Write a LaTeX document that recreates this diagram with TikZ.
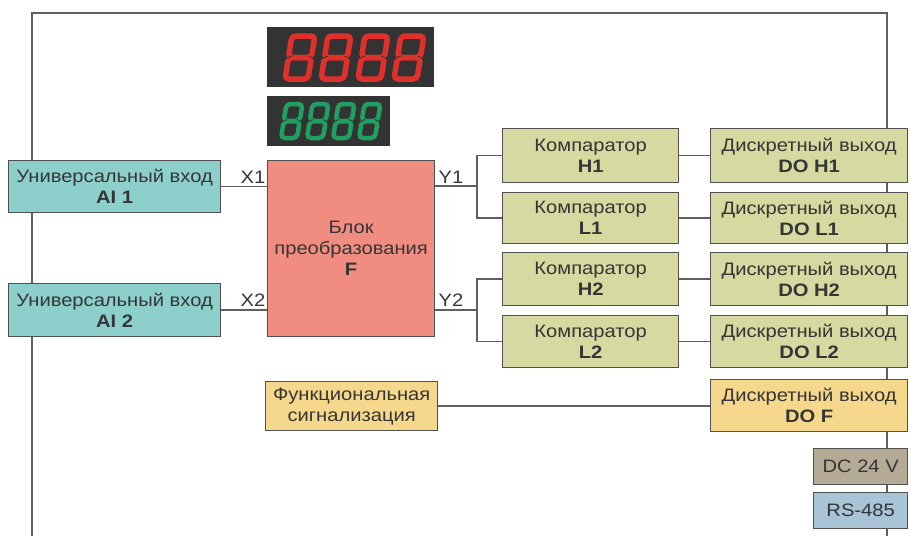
\documentclass[tikz,border=0pt]{standalone}
\usepackage{fontspec}
\setmainfont{Liberation Sans}[FakeStretch=1.12]
\definecolor{boxline}{HTML}{505050}
\definecolor{wirec}{HTML}{606060}
\definecolor{txt}{HTML}{353535}
\definecolor{aic}{HTML}{8DCFCB}
\definecolor{fc}{HTML}{F08C80}
\definecolor{cmpc}{HTML}{D6DAA0}
\definecolor{yelc}{HTML}{F6D88C}
\definecolor{dcc}{HTML}{B4AA96}
\definecolor{rsc}{HTML}{A8C4D6}
\definecolor{dispbg}{HTML}{333333}
\definecolor{segred}{HTML}{E0302C}
\definecolor{seggreen}{HTML}{1FA060}
% #1 x, #2 y bottom, #3 w, #4 h, #5 colour, #6 line width
\newcommand\segdigit[6]{%
  \begin{scope}[shift={(#1,#2)}, xslant=0.16, line width=#6, draw=#5, rounded corners=4pt]
    \draw (0,{-#4/2}) rectangle (#3,0);
    \draw (0,-#4) rectangle (#3,{-#4/2});
  \end{scope}
  \begin{scope}[shift={(#1,#2)}, xslant=0.16, line width=0.8pt, draw=dispbg]
    \draw (-3,{-#4/2+1.5}) -- (3,{-#4/2-1.5});
    \draw ({#3-3},{-#4/2-1.5}) -- ({#3+3},{-#4/2+1.5});
  \end{scope}}
\begin{document}
\begin{tikzpicture}[x=1pt,y=-1pt,
  box/.style={draw=boxline, line width=1.3pt, inner sep=0pt, align=center, text=txt,
    font=\fontsize{18}{21}\selectfont, anchor=north west},
  wire/.style={draw=wirec, line width=1.5pt},
  lbl/.style={text=txt, font=\fontsize{18}{21}\selectfont, inner sep=0pt},
  frameline/.style={draw=wirec, line width=1.8pt}]
\useasboundingbox (0,0) rectangle (911,536);
% frame
\draw[frameline] (32,536) -- (32,13) -- (887,13) -- (887,536);
% displays
\fill[dispbg] (267,27) rectangle (434,87);
\fill[dispbg] (267,96) rectangle (390,146);
\segdigit{285}{79}{23}{43}{segred}{5.5pt}
\segdigit{321}{79}{23}{43}{segred}{5.5pt}
\segdigit{358}{79}{23}{43}{segred}{5.5pt}
\segdigit{394}{79}{23}{43}{segred}{5.5pt}
\segdigit{281}{138}{16}{34}{seggreen}{4.5pt}
\segdigit{307}{138}{16}{34}{seggreen}{4.5pt}
\segdigit{333}{138}{16}{34}{seggreen}{4.5pt}
\segdigit{359}{138}{16}{34}{seggreen}{4.5pt}
% inputs
\node[box, fill=aic, minimum width=212pt, minimum height=52pt] (ai1) at (8,160) {Универсальный вход\\\textbf{AI 1}};
\node[box, fill=aic, minimum width=212pt, minimum height=53pt] (ai2) at (8,283) {Универсальный вход\\\textbf{AI 2}};
% F block
\node[box, fill=fc, minimum width=167pt, minimum height=176pt] (f) at (267,160) {Блок\\преобразования\\\textbf{F}};
% comparators
\node[box, fill=cmpc, minimum width=176pt, minimum height=54pt] (h1) at (502,128) {Компаратор\\\textbf{H1}};
\node[box, fill=cmpc, minimum width=176pt, minimum height=51pt] (l1) at (502,192) {Компаратор\\\textbf{L1}};
\node[box, fill=cmpc, minimum width=176pt, minimum height=53pt] (h2) at (502,252) {Компаратор\\\textbf{H2}};
\node[box, fill=cmpc, minimum width=176pt, minimum height=52pt] (l2) at (502,315) {Компаратор\\\textbf{L2}};
% discrete outputs
\node[box, fill=cmpc, minimum width=197pt, minimum height=54pt] (doh1) at (710,128) {Дискретный выход\\\textbf{DO H1}};
\node[box, fill=cmpc, minimum width=197pt, minimum height=51pt] (dol1) at (710,192) {Дискретный выход\\\textbf{DO L1}};
\node[box, fill=cmpc, minimum width=197pt, minimum height=53pt] (doh2) at (710,252) {Дискретный выход\\\textbf{DO H2}};
\node[box, fill=cmpc, minimum width=197pt, minimum height=52pt] (dol2) at (710,315) {Дискретный выход\\\textbf{DO L2}};
\node[box, fill=yelc, minimum width=172pt, minimum height=49pt] (fs) at (265,381) {Функциональная\\сигнализация};
\node[box, fill=yelc, minimum width=197pt, minimum height=52pt] (dof) at (710,379) {Дискретный выход\\\textbf{DO F}};
\node[box, fill=dcc, minimum width=94pt, minimum height=36pt] (dc) at (813,448) {DC 24 V};
\node[box, fill=rsc, minimum width=94pt, minimum height=36pt] (rs) at (813,492) {RS-485};
% connectors
\draw[wire] (ai1.east) -- (f.west |- ai1.east);
\draw[wire] (ai2.east) -- (f.west |- ai2.east);
\node[lbl] (x1) at (253,177) {X1};
\node[lbl] (x2) at (253,300) {X2};
\coordinate (j1) at (477,186);
\coordinate (j2) at (477,310);
\draw[wire] (f.east |- j1) -- (j1);
\draw[wire] (f.east |- j2) -- (j2);
\node[lbl] (y1) at (451,177) {Y1};
\node[lbl] (y2) at (451,300) {Y2};
\draw[wire] (h1.west) -| (j1) |- (l1.west);
\draw[wire] (h2.west) -| (j2) |- (l2.west);
\draw[wire] (h1.east) -- (doh1.west);
\draw[wire] (l1.east) -- (dol1.west);
\draw[wire] (h2.east) -- (doh2.west);
\draw[wire] (l2.east) -- (dol2.west);
\draw[wire] (fs.east) -- (dof.west |- fs.east);
\end{tikzpicture}
\end{document}
